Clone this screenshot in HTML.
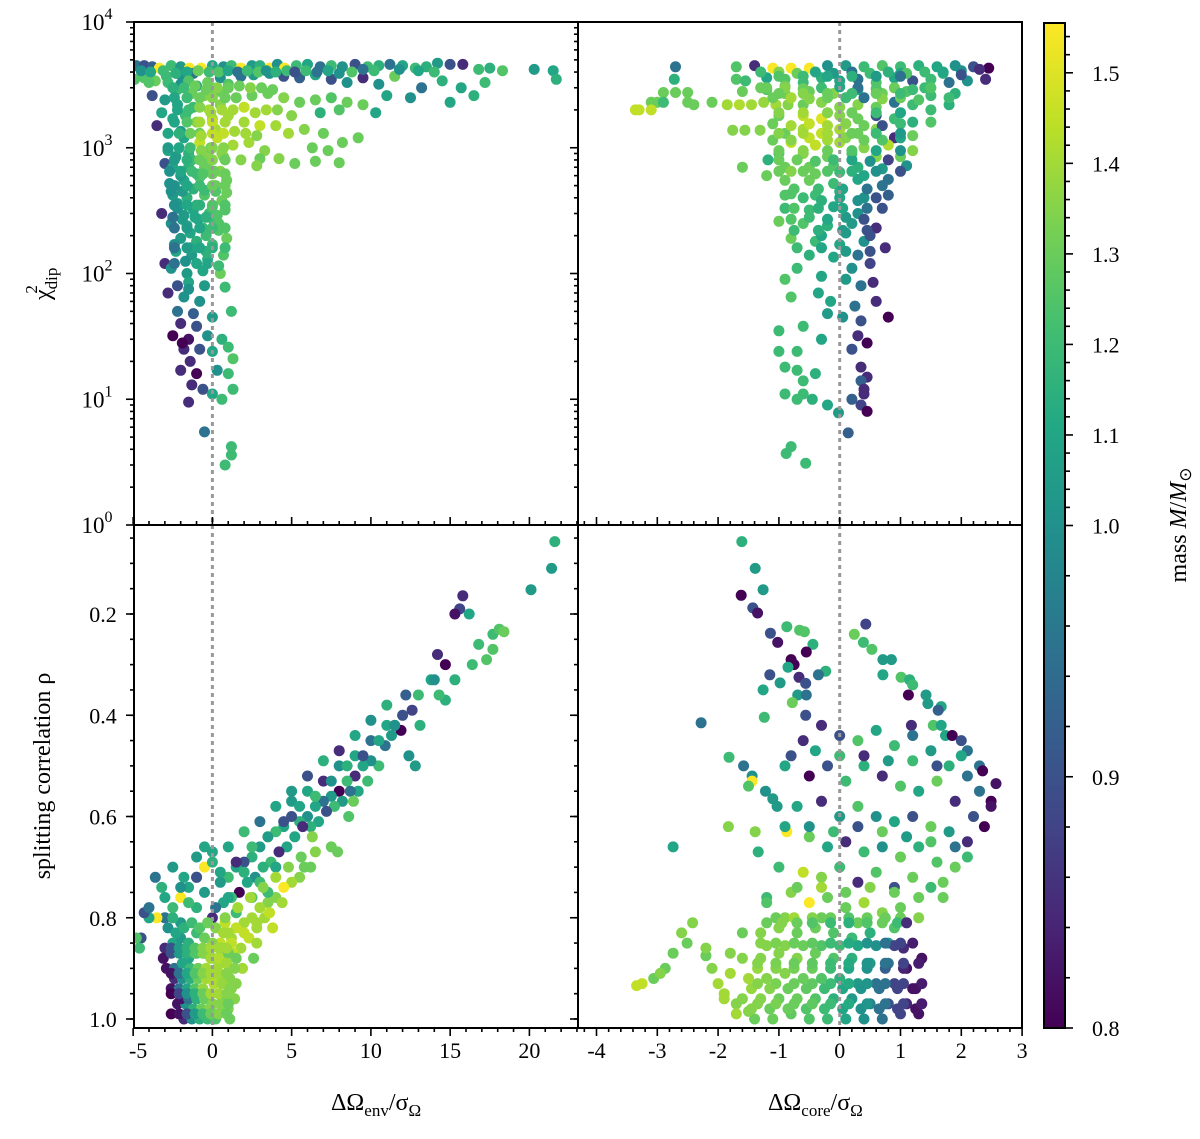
<!DOCTYPE html>
<html><head><meta charset="utf-8"><style>
html,body{margin:0;padding:0;background:#fff}
svg{display:block;font-family:"Liberation Serif",serif}
</style></head><body>
<svg id="fig" width="1200" height="1139" viewBox="0 0 1200 1139" xmlns="http://www.w3.org/2000/svg">
<defs><linearGradient id="vir" x1="0" y1="1" x2="0" y2="0">
<stop offset="0" stop-color="#440154"/><stop offset="0.1" stop-color="#482475"/><stop offset="0.2" stop-color="#414487"/><stop offset="0.3" stop-color="#355f8d"/><stop offset="0.4" stop-color="#2a788e"/><stop offset="0.5" stop-color="#21918c"/><stop offset="0.6" stop-color="#22a884"/><stop offset="0.7" stop-color="#44bf70"/><stop offset="0.8" stop-color="#7ad151"/><stop offset="0.9" stop-color="#bddf26"/><stop offset="1" stop-color="#fde725"/>
</linearGradient></defs>
<g id="layer"></g>
</svg>
<script>
// ---- top-left: env shift vs chi2 ----
const tlEnv=[-4.8,-4.3,-3.8,-3.35,-2.6,-2,-1.45,-0.7,0,0.7, 1.2,1.8,2.5,3.0,3.6,4.1,4.55,5.3,6.0,6.8, 7.5,8.2,9,9.8,10.5,11.2,12,12.8,13.5,14.2, 15,15.8,16.8,17.5,18.3,20.3,21.5,21.7,-4.9,-4.3, -3.6,-2.9,-2,-1.2,0.5,1.8,2.6,3.6,4.5,5.5, 6.5,7.5,8.5,9.5,10.5,11.5,13.2,14.5,15.7,17.2, 11,12.5,15,16.5,-3.8,-3,-2.2,-1.3,-0.5,0.5, 1.5,2.5,3.5,4.5,5.5,6.5,7.5,8.5,9.5,10.3, 6.8,8,-3.2,-2.5,-1.7,-1,0,1,2,3, 4,4.8,5.8,7,8.2,9.2,6.3,-0.8,0.3,1.3, 2.3,3.3,-3.5,-2,-2.8,-1.5,-0.3,0.7,1.8,3, 4.2,5.2,6.5,8,7.3,2.8,-3,-0.1,-2.5,-1.5, -0.5,0.5,-2.7,-1.8,-0.8,0.2,0.9,-2.5,-1.6,-0.5, 0.6,-2.2,-1.2,-0.2,0.8,-3.2,-2.6,-1.6,-0.6,0.4, -2,-1,0,0.9,-2.3,-1.3,-0.3,0.7,-3,-2.6, -1.6,-0.6,0.5,-1.5,-0.5,0.8,-2.8,-1.8,-0.8,-2.2, -1.2,0,1.2,-2,-1,-2.5,-1.5,-0.3,0.6,-1.8, -0.8,0,1,-1.4,1.3,-2,-1,0.3,1,-1.3, -0.6,0,1.3,-1.5,0.6,-0.5,1.2,1.2,0.8,-1.9, -2,-1,0,1,-2.2,-1.2,-0.2,0.5,-1.8,-0.8, 0.2,-2.3,-1.3,-0.3,0.6,-2,-1,0,-2.2,-1, 0,-1.9,-0.9,0.1,-1.4,-0.4,0.4,-2.4,-1.4,-0.4];
const tlChi=[4500,4500,4400,4300,4500,4400,4300,4300,4500,4400, 4500,4300,4500,4500,4300,4600,4300,4500,4600,4400, 4500,4400,4600,4400,4500,4600,4500,4300,4400,4700, 4600,4600,4200,4300,4100,4200,4100,3500,3500,3600, 3400,3700,3800,3900,3600,3700,3800,3900,3700,3600, 3800,3500,3300,3600,3200,3700,3000,3400,3000,3300, 2600,2500,2300,2600,2600,2400,2900,2700,2600,2800, 2500,2600,2700,2500,2300,2400,2500,2300,2200,1900, 1900,2000,1900,1700,1800,1600,1700,1800,1600,1500, 1500,1300,1400,1300,1100,1200,1000,1100,1200,1050, 1100,950,1500,1350,950,900,900,850,800,820, 820,750,780,760,950,720,750,1000,700,700, 700,650,520,550,580,500,550,420,400,420, 380,330,320,300,320,300,250,240,230,220, 190,180,170,190,150,140,130,140,120,110, 100,105,100,85,80,78,70,65,60,50, 48,45,50,40,38,32,30,32,30,25, 25,24,26,20,21,17,16,17,16,13, 12,11,12,9.5,10,5.5,4.2,3.6,3,28, 3200,3100,3000,3200,2200,2100,2000,2200,1200,1300, 1400,850,800,750,900,600,620,620,360,350, 340,270,270,260,210,200,250,170,160,150];
const tlMass=[0.95,0.9,0.92,1.55,1.2,1.05,1.55,1.55,1.1,1.0, 1.2,1.55,1.05,1.15,1.55,1.0,1.55,1.2,1.1,0.95, 1.2,1.0,0.9,1.2,1.15,0.95,1.1,1.2,1.15,1.05, 0.9,0.85,1.2,1.15,1.25,1.05,1.1,1.15,1.25,1.25, 1.3,1.2,1.0,0.95,1.0,0.95,1.05,1.0,0.9,0.92, 1.1,0.9,1.0,0.85,1.0,1.3,0.95,1.15,1.1,1.2, 1.1,1.0,1.1,1.15,0.9,1.05,1.2,1.3,1.35,1.3, 1.3,1.3,1.3,1.35,1.3,1.3,1.25,1.3,1.3,1.1, 1.15,1.25,1.1,1.1,1.2,1.35,1.4,1.4,1.4,1.45, 1.4,1.4,1.35,1.3,1.3,1.3,1.3,1.45,1.45,1.4, 1.4,1.35,0.85,1.05,1.1,1.15,1.35,1.3,1.35,1.3, 1.35,1.3,1.3,1.3,1.3,1.35,0.9,1.3,1.1,1.15, 1.3,1.35,1.0,1.1,1.25,1.3,1.3,1.05,1.15,1.25, 1.3,1.0,1.1,1.2,1.25,0.85,1.0,1.1,1.2,1.25, 1.05,1.15,1.2,1.3,1.1,1.05,1.15,1.25,0.85,1.0, 1.05,1.1,1.3,1.1,1.05,1.2,0.85,1.0,1.0,0.95, 0.92,1.05,1.2,0.85,0.9,0.8,0.82,1.0,1.15,0.85, 0.9,1.1,1.2,0.85,1.25,0.85,0.8,1.0,1.2,0.85, 0.9,1.1,1.2,0.85,1.2,0.95,1.2,1.2,1.2,0.8, 1.0,1.1,1.3,1.25,1.1,1.2,1.4,1.35,1.1,1.3, 1.4,1.05,1.2,1.3,1.35,1.05,1.2,1.3,1.05,1.15, 1.25,1.05,1.1,1.2,1.1,1.2,1.25,1.0,1.1,1.15];
const tlEnvB=[-4.5,-3.9,-3.1,-2.3,-1.6,-0.9,-0.2,0.4,1.0,1.6, 2.2,2.9,3.4,4.0,4.7,5.2,5.9,6.6,7.3,8.0, 8.8,9.5,10.2,11.8,13,14,-4,-2.8,-1.5,-0.3, -2.5,-1.8,-1.1,-0.4,0.3,1.0,1.7,2.4,3.1,3.8, -2.2,-1.5,-0.8,-0.1,0.6,1.3,2.0,2.7,3.4,4.1, -2.8,-2.1,-1.4,-0.7,0,0.7,1.4,2.1,2.8,5.0, -2.8,-2.1,-1.4,-0.7,0,0.7, -2.7,-2,-1.3,-0.6,0.1,0.8, -2.6,-1.9,-1.2,-0.5,0.2,0.9, -2.5,-1.8,-1.1,-0.4,0.3, -2.4,-1.7,-1.0,-0.3,0.4, -2.2,-1.5];
const tlChiB=[4100,4000,4100,3900,4000,4100,4000,4000,4100,4000, 4100,4000,4100,4000,4100,4000,4100,4000,4100,3900, 4000,4200,4100,4200,4100,4000,3300,3300,3400,3300, 3000,3000,3100,2900,3000,3000,3100,3000,3000,2900, 2000,2000,2100,1900,2000,2000,2100,1900,2000,2000, 1300,1300,1300,1250,1300,1300,1350,1300,1250,1800, 1000,1000,1000,950,1000,1000, 650,650,650,620,650,620, 450,450,470,460,450,440, 280,290,280,280,290, 120,125,120,120,115, 80,75];
const tlMassB=[1.0,1.1,1.2,1.15,1.1,1.3,1.2,1.25,1.1,0.95, 1.2,1.25,1.0,1.15,1.2,0.9,1.2,0.95,1.1,1.0, 1.25,0.95,1.2,1.0,1.1,1.2,1.25,1.2,1.25,1.3, 1.15,1.2,1.3,1.3,1.35,1.3,1.3,1.35,1.3,1.3, 1.1,1.2,1.35,1.4,1.4,1.4,1.45,1.4,1.4,1.35, 1.1,1.15,1.3,1.4,1.45,1.45,1.4,1.4,1.35,1.35, 1.05,1.1,1.2,1.35,1.35,1.35, 1.0,1.1,1.2,1.25,1.3,1.3, 1.0,1.05,1.15,1.2,1.25,1.3, 0.95,1.05,1.1,1.15,1.25, 0.95,1.0,1.1,1.1,1.2, 0.9,1.0];
const tlEnvC=[-2.4,-1.6,-0.8,0,0.8, -2.4,-1.6,-0.8,0,0.8, -2.4,-1.6,-0.8,0,0.8, -2.4,-1.6,-0.8,0,0.8, -2.4,-1.6,-0.8,0,0.8, -2.4,-1.6,-0.8,0,0.8, -2.4,-1.6,-0.8,0,0.8];
const tlChiC=[2500,2500,2500,2500,2500, 1600,1600,1600,1600,1600, 800,800,800,800,800, 500,500,500,500,500, 350,350,350,350,350, 230,230,230,230,230, 160,160,160,160,160];
const tlMassC=[1.1,1.2,1.3,1.35,1.3, 1.1,1.25,1.4,1.45,1.4, 1.05,1.15,1.3,1.35,1.3, 1.0,1.1,1.2,1.3,1.3, 1.0,1.1,1.15,1.25,1.25, 0.95,1.05,1.1,1.2,1.25, 0.95,1.05,1.1,1.15,1.2];
// ---- top-right: core shift vs chi2 ----
const trCore=[-2.7,-1.7,-1.4,-1.1,-0.8,-0.5,-0.2,0.1,0.4,0.7, 1.0,1.3,1.6,1.9,2.2,2.45,-1.7,-2.72,-1.55,-1.2, -0.9,-0.6,-0.3,0,0.3,0.6,0.9,1.2,1.5,1.8, 2.1,2.4,-2.9,-2.7,-2.5,-1.6,-1.2,-0.9,-0.5,-0.1, 0.3,0.7,1.1,1.5,1.9,-3.1,-3.0,-2.9,-2.5,-2.4, -2.1,-1.85,-1.65,-1.45,-1.25,-1.05,-0.85,-0.6,-0.3,0, 0.3,0.6,0.9,1.2,1.5,1.8,-3.36,-3.3,-3.1,-1.0, -0.6,-0.3,0,0.3,0.6,0.9,1.2,1.5,-1.76,-1.56, -1.31,-0.9,-0.6,-0.3,0,0.3,0.6,0.9,1.2,-0.8, -0.4,0,0.4,0.8,1.2,-1.0,-0.6,-0.2,0.2,0.6, 1.0,-1.6,-1.18,-0.9,-0.5,-0.1,0.3,0.7,1.1,-0.9, -0.5,-0.1,0.3,0.7,-0.8,-0.4,0,0.4,0.8,-0.9, -0.5,-0.1,0.3,0.7,-1.0,-0.6,-0.2,0.2,0.6,-0.8, -0.4,0,0.4,0.75,-0.5,-0.1,0.3,-0.7,0.2,0.5, -0.9,-0.3,0.1,0.35,0.55,-0.8,-0.35,-0.15,0.25,0.6, -0.2,0.05,0.35,0.8,-1.0,-0.6,-0.3,0.3,0.45,0.2, -1.0,-0.7,-0.9,-0.7,-0.4,0.35,0.45,0.35,0.4,-0.6, -0.9,-0.6,-0.7,-0.45,-0.2,0.2,0.4,0.35,0.45,-0.02, 0.14,-0.8,-0.88,-0.56,-0.3,0.1,0.5,-1.2,-0.8,-0.4, 0,0.4,0.8,-1.3,-0.9,1.4,1.7,2.0,2.3,1.0];
const trChi=[4400,4400,4500,4300,4300,4300,4500,4500,4400,4500, 4400,4500,4400,4500,4400,4300,3500,3500,3400,3600, 3500,3300,3600,3400,3500,3300,3600,3400,3500,3300, 3400,3500,2750,2750,2750,2800,2900,2700,2800,2700, 2900,2700,2800,2600,2700,2300,2300,2300,2300,2200, 2300,2200,2200,2200,2300,2200,2200,2200,2300,2100, 2200,2100,2300,2200,2000,2200,2000,2000,2000,1800, 1800,1700,1800,1700,1800,1700,1600,1600,1380,1380, 1380,1300,1400,1300,1400,1300,1400,1200,1250,1100, 1050,1100,1000,1050,950,900,900,850,900,850, 850,700,800,700,700,720,700,680,720,550, 550,520,560,500,430,420,450,400,420,330, 320,340,300,330,260,250,240,250,230,190, 180,170,180,160,140,135,140,110,110,120, 90,95,90,80,85,65,70,60,55,60, 48,45,42,45,35,38,30,32,28,25, 24,24,18,17,16,18,15,14,12,14, 11,11,10,10,9,10,11,9,8,7.8, 5.4,4.2,3.7,3.1,200,210,200,600,650,620, 640,600,560,3000,3100,3000,3900,4100,4200,3900];
const trMass=[0.95,1.25,0.85,1.55,1.55,1.55,1.0,1.05,1.2,1.25, 1.2,1.15,1.1,1.0,0.9,0.8,1.25,1.15,1.2,1.1, 1.25,1.2,1.15,1.1,0.95,1.25,1.1,0.9,1.2,0.95, 1.0,0.85,1.3,1.3,1.3,1.3,1.25,1.3,1.3,1.35, 1.1,1.3,1.25,1.2,1.15,1.3,1.3,1.2,1.3,1.3, 1.3,1.4,1.42,1.4,1.38,1.4,1.35,1.3,1.35,1.35, 1.35,1.3,0.95,1.2,1.2,1.15,1.45,1.45,1.45,1.3, 1.45,1.5,1.35,1.3,0.9,1.2,1.15,1.25,1.35,1.35, 1.35,1.3,1.4,1.45,1.4,1.3,1.35,0.85,1.3,1.45, 1.45,1.4,1.35,1.42,1.35,1.25,1.35,1.3,1.25,1.35, 1.3,1.3,1.15,1.3,1.3,1.25,1.15,1.05,1.0,1.3, 1.3,1.2,1.1,0.95,1.25,1.2,1.15,1.0,0.92,1.2, 1.2,1.1,1.0,0.9,1.3,1.25,1.15,1.05,0.85,1.3, 1.2,1.1,1.0,0.85,1.15,1.1,0.95,1.2,1.0,0.88, 1.25,1.1,1.05,0.95,0.85,1.25,1.1,1.1,0.95,0.85, 1.05,1.0,0.9,0.8,1.2,1.2,1.1,0.85,0.8,0.9, 1.2,1.2,1.2,1.2,1.15,0.85,0.85,0.92,0.85,1.2, 1.2,1.2,1.2,1.15,1.1,0.92,0.85,0.88,0.8,1.05, 0.92,1.2,1.2,1.2,1.1,1.05,0.9,1.3,1.35,1.3, 1.2,1.1,0.95,1.3,1.3,1.2,1.15,1.0,0.85,1.1];
const trCoreB=[-1.3,-1.0,-0.7,-0.4,-0.1,0.2,0.5,0.8,1.1,1.4, 1.7,2.0,-1.2,-0.9,-0.6,-0.3,0,0.3,0.6,0.9, 1.2,1.5,1.8,-1.1,-0.8,-0.5,-0.2,0.1,0.4,0.7, 1.0,1.3,-1.1,-0.8,-0.5,-0.2,0.1,0.4,0.7,1.0, -1.1,-0.8,-0.5,-0.2,0.1,0.4,0.7,1.0, -1.0,-0.7,-0.4,-0.1,0.2,0.5,0.8, -0.9,-0.6,-0.3,0,0.3, 0.6,-0.8,-0.5,-0.2,0.1,0.4,-0.7,-0.3,0.1,0.5];
const trChiB=[4000,4000,3900,4000,3900,4000,3900,4000,3900,4000, 4000,3800,3000,3000,2950,3000,3050,3000,2950,3000, 2900,3000,2500,2500,2500,2450,2500,2500,2500,2450, 2500,2400,1550,1500,1550,1500,1550,1500,1500,1550, 1150,1150,1200,1150,1200,1150,1150,1200, 800,800,780,800,800,780,800, 420,400,380,400,380, 400,270,280,270,280,270,160,160,150,150];
const trMassB=[1.2,1.35,1.3,1.1,1.05,0.95,1.2,1.15,1.25,1.2, 1.1,0.9,1.3,1.35,1.3,1.2,1.1,0.95,1.25,1.3, 1.2,1.25,1.2,1.3,1.4,1.35,1.3,1.2,0.95,1.35, 1.3,1.25,1.3,1.4,1.45,1.4,1.35,1.3,0.9,1.2, 1.3,1.35,1.45,1.4,1.35,1.3,1.25,1.1, 1.3,1.3,1.25,1.2,1.1,1.0,0.88, 1.25,1.2,1.15,1.1,1.0, 0.9,1.25,1.2,1.1,1.05,0.9,1.2,1.1,1.05,0.9];
const trCoreC=[-1,-0.6,-0.2,0.2,0.6,1.0, -1,-0.6,-0.2,0.2,0.6,1.0, -1,-0.6,-0.2,0.2,0.6,1.0, -1,-0.6,-0.2,0.2,0.6,1.0, -1,-0.6,-0.2,0.2,0.6,1.0, -1,-0.6,-0.2,0.2,0.6,1.0, -0.75,-0.35,0.05,0.45, -0.75,-0.35,0.05,0.45, -0.75,-0.35,0.05,0.45];
const trChiC=[3700,3700,3700,3700,3700,3700, 2700,2700,2700,2700,2700,2700, 1900,1900,1900,1900,1900,1900, 1300,1300,1300,1300,1300,1300, 950,950,950,950,950,950, 650,650,650,650,650,650, 470,470,470,470, 330,330,330,330, 220,220,220,220];
const trMassC=[1.25,1.2,1.1,1.15,1.05,0.95, 1.3,1.35,1.3,1.2,1.3,1.2, 1.35,1.4,1.35,1.3,1.2,1.1, 1.35,1.4,1.4,1.3,1.2,1.05, 1.3,1.35,1.3,1.25,1.1,1.0, 1.3,1.3,1.25,1.15,1.0,0.9, 1.25,1.2,1.1,0.95, 1.25,1.15,1.1,0.95, 1.2,1.15,1.05,0.9];
// ---- bottom-left: env shift vs rho ----
const blEnv=[21.6,21.4,20.1,15.8,15.6,15.3,16.2,17.7,18.1,18.4, 17.7,16.8,17.3,14.2,14.7,13.8,12.2,12.6,15.3,16.4, 14.7,14.3,13.1,11.5,11.3,10.9,11.9,12.4,12.8,10.5, 10.0,9.5,9.0,8.5,8.0,7.5,7.0,6.5,6.0,5.5, 9.8,9.2,8.7,8.2,7.7,7.2,6.7,6.2,5.7,5.2, 5.0,4.5,4.0,3.5,3.0,2.5,2.0,1.5,1.0,0.5, 4.7,4.2,3.7,3.2,2.7,2.2,1.7,1.2,0.7,0.2, 0,-0.5,-1,-1.5,-2,-2.5,-3,-3.5,-4,-4.5, 6.3,6.5,6.2,7.5,7.9,5.8,5.5,5.0,4.5,4.0, 3.5,3.0,2.5,2.0,1.5,1.0,0.5,8.9,8.6,3.8, 3.3,2.8,2.3,1.8,1.3,0.8,0.3,2.6,1.9,1.5, -3,-2.5,-2,-1.5,-1,-0.5,0,0.5,1,1.5, -2.9,-2.4,-1.9,-1.4,-0.9,-0.4,0.1,0.6,1.1,-2.6, -2.1,-1.6,-1.1,-0.6,-0.1,0.4,0.9,-2.2,-1.7,-1.2, -0.7,-0.2,0.3,0.8,1.1,-1.8,-1.3,-0.8,-0.3,0.2, -4.8,-4.6,-4.3,-4.0,-3.6,-3.2,-2.5,-1.8,-1.0,-0.5, 1,2,3,4,0,-1,-2,2.5,3.5,1.5, 6,7,8,9,10,11,12,13,14,5, 1.2,1.4,1.0,-0.5,0,0.5,-1.5,-1,2.8,0.8];
const blRho=[0.057,0.11,0.152,0.164,0.19,0.2,0.2,0.24,0.23,0.235, 0.27,0.26,0.29,0.28,0.3,0.33,0.36,0.39,0.33,0.3, 0.37,0.36,0.42,0.42,0.44,0.46,0.43,0.48,0.5,0.5, 0.49,0.5,0.52,0.53,0.55,0.56,0.57,0.58,0.6,0.61, 0.53,0.55,0.55,0.57,0.58,0.59,0.61,0.62,0.62,0.64, 0.6,0.62,0.63,0.64,0.66,0.68,0.69,0.7,0.72,0.73, 0.66,0.67,0.69,0.7,0.72,0.73,0.75,0.76,0.77,0.78, 0.67,0.7,0.72,0.74,0.76,0.78,0.8,0.8,0.8,0.84, 0.64,0.67,0.7,0.66,0.67,0.7,0.72,0.73,0.74,0.76, 0.77,0.78,0.8,0.81,0.82,0.83,0.85,0.57,0.6,0.82, 0.8,0.82,0.84,0.86,0.87,0.88,0.9,0.88,0.9,0.93, 0.86,0.85,0.84,0.85,0.83,0.84,0.85,0.86,0.87,0.88, 0.9,0.9,0.89,0.9,0.9,0.9,0.91,0.92,0.92,0.94, 0.94,0.94,0.94,0.94,0.95,0.95,0.96,0.97,0.97,0.98, 0.98,0.98,0.99,0.98,1.0,1.0,1.0,1.0,1.0,1.0, 0.84,0.86,0.79,0.78,0.72,0.74,0.7,0.72,0.68,0.66, 0.76,0.71,0.73,0.7,0.8,0.78,0.81,0.76,0.75,0.79, 0.55,0.53,0.5,0.48,0.45,0.42,0.4,0.36,0.33,0.57, 0.94,0.96,0.98,0.87,0.88,0.89,0.88,0.87,0.85,0.81];
const blMass=[1.15,1.05,1.05,0.85,0.88,0.82,1.1,1.2,1.25,1.3, 1.25,1.2,1.25,0.85,0.8,1.1,0.92,0.88,1.15,1.2, 1.15,1.2,1.15,1.05,1.05,0.95,0.8,1.0,1.05,1.2, 1.0,1.1,0.85,1.2,0.8,1.05,0.95,1.1,1.0,1.15, 1.2,1.1,0.95,1.05,1.2,0.9,1.1,1.15,0.85,1.1, 0.9,1.1,1.2,1.55,1.05,1.15,0.9,1.1,1.2,1.05, 1.1,0.85,1.2,1.15,1.0,1.1,0.8,1.2,1.1,0.95, 1.1,1.55,1.15,1.1,1.55,1.2,0.95,1.55,1.1,0.9, 1.35,1.35,1.3,1.3,1.3,1.3,1.35,1.4,1.55,1.35, 1.35,1.4,1.4,1.4,1.45,1.4,1.45,1.3,1.25,1.45, 1.4,1.4,1.45,1.4,1.45,1.4,1.4,1.3,1.4,1.35, 0.85,1.1,1.05,1.15,1.2,1.3,1.35,1.35,1.3,1.3, 0.82,0.95,1.1,1.2,1.3,1.4,1.4,1.38,1.35,0.82, 0.95,1.1,1.25,1.38,1.4,1.35,1.3,0.82,1.0,1.15, 1.3,1.35,1.3,1.3,1.3,0.85,1.0,1.15,1.2,1.25, 1.25,1.2,0.9,0.95,0.95,1.15,1.05,1.1,1.05,1.1, 1.1,1.15,1.2,1.1,0.85,1.15,1.05,1.25,1.2,1.2, 1.1,0.85,1.0,1.1,0.95,1.1,0.9,1.2,1.0,1.05, 1.35,1.35,1.35,1.2,1.3,1.4,1.1,1.2,1.4,1.45];
const blEnvB=[-3,-2,-1,0,1,2,3,4,5,6,7,8,9,10,11, -2.5,-1.5,-0.5,0.5,1.5,2.5,3.5,4.5,5.5,6.5,7.5,8.5,9.5,10.5,11.5, -2.8,-2.3,-1.8,-1.3,-0.8,-0.3,0.2,0.7,1.2, -3.1,-2.6,-2.1,-1.6,-1.1,-0.6,-0.1,0.4,0.9,1.4, -2.4,-1.9,-1.4,-0.9,-0.4,0.1,0.6,1.1, -2.0,-1.5,-1.0,-0.5,0,0.5,1.0, 0.8,1.6,2.4,3.2,4.0,4.8,5.6,1.2,2.0,2.8,3.6,4.4];
const blRhoB=[0.76,0.74,0.72,0.69,0.66,0.63,0.61,0.58,0.55,0.52,0.49,0.47,0.44,0.41,0.38, 0.8,0.77,0.75,0.71,0.69,0.66,0.64,0.61,0.58,0.56,0.53,0.5,0.48,0.45,0.42, 0.82,0.83,0.82,0.81,0.82,0.81,0.82,0.83,0.84, 0.88,0.87,0.87,0.87,0.87,0.87,0.88,0.88,0.89,0.9, 0.92,0.92,0.92,0.92,0.92,0.93,0.93,0.94, 0.96,0.96,0.96,0.96,0.97,0.97,0.97, 0.8,0.78,0.76,0.74,0.72,0.7,0.68,0.85,0.83,0.81,0.79,0.77];
const blMassB=[1.1,1.0,0.9,1.15,1.1,1.2,0.95,1.1,1.05,0.9,1.15,0.85,1.1,1.0,1.15, 1.15,1.2,1.05,1.1,0.85,1.2,1.05,0.9,1.1,1.2,1.0,1.15,0.9,1.1,1.0, 1.0,1.1,1.15,1.2,1.25,1.3,1.35,1.4,1.4, 0.82,0.9,1.05,1.15,1.25,1.35,1.4,1.42,1.4,1.35, 0.85,1.0,1.15,1.3,1.4,1.42,1.38,1.35, 0.82,0.95,1.15,1.3,1.35,1.35,1.3, 1.35,1.4,1.4,1.35,1.4,1.35,1.3,1.45,1.45,1.4,1.45,1.4];
const blEnvC=[-2.6,-2.1,-1.6,-1.1,-0.6,-0.1,0.4,0.9, -2.6,-2.1,-1.6,-1.1,-0.6,-0.1,0.4,0.9, -2.6,-2.1,-1.6,-1.1,-0.6,-0.1,0.4,0.9, -2.6,-2.1,-1.6,-1.1,-0.6,-0.1,0.4,0.9];
const blRhoC=[0.99,0.99,0.99,0.99,0.99,0.99,0.99,0.99, 0.95,0.95,0.95,0.95,0.95,0.95,0.95,0.95, 0.91,0.91,0.91,0.91,0.91,0.91,0.91,0.91, 0.86,0.86,0.86,0.86,0.86,0.86,0.86,0.86];
const blMassC=[0.8,0.82,0.9,1.05,1.2,1.3,1.35,1.3, 0.8,0.88,1.0,1.15,1.3,1.4,1.4,1.35, 0.82,0.95,1.1,1.25,1.35,1.4,1.4,1.35, 0.9,1.05,1.15,1.25,1.35,1.4,1.4,1.4];
// ---- bottom-right: core shift vs rho ----
const brCore=[-1.61,-1.39,-1.26,-1.62,-1.43,-1.35,-1.14,-1.02,-0.87,-0.66, -0.58,-0.44,-0.55,-0.8,-0.75,-0.85,-0.23,-1.15,-0.98,-0.67, -0.56,-0.35,-1.26,-0.69,-0.55,-0.78,-1.24,-0.56,0.43,0.24, 0.39,0.53,0.71,0.85,0.71,1.01,1.15,1.2,1.13,1.42, 1.45,1.67,1.62,1.18,1.54,1.67,1.74,1.85,2.0,2.1, 2.3,2.35,2.57,2.49,2.49,2.38,-2.28,-1.82,-1.58,-1.44, -1.44,-1.5,-1.22,-1.1,-1.03,-1.83,-1.39,-2.74,-0.87,-1.34, -2.42,-2.6,-2.51,-2.74,-2.87,-3.06,-3.34,-2.2,-3.25,-2.95, -0.3,0,0.3,0.6,0.9,1.2,1.5,1.8,2.1,-0.6, -0.9,-0.5,-0.2,0.1,0.4,0.7,1.0,1.3,1.6,1.9, 2.2,-0.7,-0.3,0,0.3,0.6,0.9,1.2,1.5,1.8, 2.1,-0.5,-0.2,0.1,0.4,0.7,1.0,1.3,1.6,1.9, -1.0,-0.6,-0.3,0,0.3,0.6,0.9,1.2,1.5,1.7, -1.2,-0.8,-0.5,-0.2,0.1,0.4,0.7,1.0,1.3,-0.9, -1.3,-1.0,-0.7,-0.4,-0.1,0.2,0.5,0.8,1.05,-1.6, -1.3,-1.0,-0.7,-0.4,-0.1,0.2,0.5,0.8,1.1,-1.8, -1.5,-1.2,-0.9,-0.6,-0.3,0,0.3,0.6,0.9,1.2, -1.6,-1.3,-1.0,-0.7,-0.4,-0.1,0.2,0.5,0.8,1.1, -1.4,-1.1,-0.8,-0.5,-0.2,0.1,0.4,0.7,1.0,1.3, -2.0,-1.9,-2.2,-1.7,-1.6,-1.2,-0.3,0.3,0.9,1.35];
const brRho=[0.057,0.11,0.152,0.163,0.188,0.198,0.238,0.256,0.225,0.232, 0.235,0.26,0.275,0.29,0.3,0.305,0.313,0.32,0.336,0.325, 0.337,0.32,0.35,0.36,0.36,0.375,0.404,0.4,0.22,0.24, 0.256,0.27,0.29,0.29,0.32,0.325,0.33,0.34,0.36,0.36, 0.377,0.383,0.39,0.42,0.42,0.42,0.44,0.44,0.45,0.47, 0.5,0.51,0.535,0.57,0.58,0.62,0.415,0.483,0.5,0.52, 0.53,0.54,0.55,0.565,0.58,0.62,0.63,0.66,0.63,0.67, 0.81,0.83,0.85,0.87,0.9,0.92,0.934,0.875,0.93,0.91, 0.42,0.44,0.45,0.43,0.46,0.44,0.47,0.5,0.52,0.45, 0.5,0.52,0.5,0.53,0.5,0.52,0.54,0.55,0.53,0.57, 0.6,0.58,0.57,0.6,0.58,0.6,0.61,0.6,0.62,0.63, 0.65,0.64,0.66,0.65,0.67,0.66,0.68,0.66,0.69,0.7, 0.7,0.71,0.72,0.7,0.73,0.71,0.74,0.72,0.74,0.76, 0.76,0.75,0.77,0.76,0.78,0.77,0.79,0.78,0.8,0.8, 0.83,0.82,0.83,0.82,0.83,0.84,0.83,0.85,0.86,0.88, 0.88,0.87,0.88,0.87,0.88,0.88,0.89,0.89,0.9,0.91, 0.92,0.92,0.91,0.92,0.92,0.92,0.93,0.93,0.93,0.94, 0.96,0.96,0.96,0.96,0.96,0.96,0.96,0.97,0.97,0.97, 1.0,1.0,0.99,1.0,1.0,1.0,1.0,1.0,0.99,0.99, 0.93,0.96,0.86,0.97,0.83,0.77,0.8,0.81,0.82,0.88];
const brMass=[1.15,1.05,1.05,0.8,0.9,0.82,0.9,0.82,1.2,1.25, 1.25,1.15,0.8,0.8,0.8,1.1,1.15,0.9,1.05,0.85, 0.9,0.95,1.1,1.05,0.95,1.3,1.2,0.9,0.88,1.3, 1.2,1.25,1.05,1.05,1.1,1.25,1.15,1.2,0.8,1.05, 1.05,1.1,0.92,0.85,1.25,1.1,1.1,0.8,0.9,0.95, 0.95,0.8,0.82,0.8,0.82,0.8,0.95,1.2,0.95,1.0, 1.55,1.25,1.0,1.05,1.05,1.35,1.35,1.1,1.55,1.15, 1.35,1.35,1.3,1.3,1.3,1.3,1.45,1.3,1.45,1.35, 0.85,0.9,1.25,1.1,1.2,0.95,1.05,1.15,0.95,0.85, 1.1,0.8,0.9,1.2,1.15,0.85,1.25,1.1,1.3,0.85, 0.9,1.1,0.85,1.05,1.25,1.0,1.1,0.9,1.3,1.05, 0.85,1.3,1.1,0.85,1.2,1.0,1.3,1.15,1.25,1.3, 1.2,1.45,1.35,1.2,0.85,1.25,0.9,1.3,1.2,1.3, 1.2,1.35,1.55,1.3,1.3,1.4,1.35,1.3,1.35,1.35, 1.35,1.35,1.3,1.3,1.25,1.2,1.15,1.05,0.85,1.35, 1.35,1.35,1.35,1.3,1.25,1.15,1.05,0.95,0.82,1.4, 1.4,1.35,1.35,1.3,1.25,1.15,1.05,0.95,0.88,0.82, 1.35,1.35,1.3,1.3,1.25,1.15,1.05,0.98,0.9,0.84, 1.3,1.3,1.28,1.25,1.2,1.1,1.0,0.95,0.88,0.82, 1.4,1.4,1.35,1.35,1.3,1.25,1.3,1.3,1.25,0.82];
const brCoreB=[-1.45,-1.15,-0.85,-0.55,-0.25,0.05,0.35,0.65,0.95,1.25, -1.45,-1.15,-0.85,-0.55,-0.25,0.05,0.35,0.65,0.95,1.25, -1.35,-1.05,-0.75,-0.45,-0.15,0.15,0.45,0.75,1.05, -1.2,-0.9,-0.6,-0.3,0,0.3,0.6,0.9, -1.05,-0.75,-0.45,-0.15,0.15,0.45,0.75,1.0, -0.8,-0.4,0,0.4,0.8,1.2,1.6,2.0,2.3, -0.9,-0.5,-0.1,0.3,0.7,1.1,1.5,1.9, -0.7,-0.3,0.1,0.5,0.9,1.3,1.7,2.1, -1.9,-1.7,-1.5,-2.1,-1.8];
const brRhoB=[0.98,0.98,0.98,0.98,0.98,0.98,0.98,0.98,0.98,0.98, 0.94,0.94,0.94,0.94,0.94,0.94,0.94,0.94,0.94,0.94, 0.9,0.9,0.9,0.9,0.9,0.9,0.9,0.9,0.9, 0.855,0.855,0.855,0.855,0.855,0.855,0.855,0.855, 0.8,0.8,0.8,0.8,0.8,0.8,0.8,0.8, 0.48,0.47,0.48,0.48,0.49,0.49,0.5,0.48,0.55, 0.62,0.62,0.63,0.62,0.63,0.64,0.65,0.66, 0.74,0.74,0.75,0.74,0.75,0.76,0.73,0.68, 0.95,0.99,0.985,0.9,0.87];
const brMassB=[1.35,1.3,1.3,1.25,1.2,1.1,1.0,0.95,0.88,0.82, 1.38,1.35,1.3,1.28,1.2,1.1,1.02,0.95,0.88,0.82, 1.38,1.35,1.32,1.3,1.2,1.1,1.0,0.92,0.84, 1.35,1.35,1.3,1.25,1.2,1.1,1.0,0.88, 1.3,1.4,1.35,1.3,1.25,1.3,1.3,1.3, 0.9,1.1,1.2,0.85,1.05,1.2,0.9,1.1,0.95, 1.1,1.0,1.2,0.9,1.3,1.05,1.25,0.95, 1.3,1.4,1.3,1.35,1.3,1.3,1.3,1.2, 1.4,1.4,1.35,1.35,1.35];
const brCoreC=[-1.35,-1.05,-0.75,-0.45,-0.15,0.15,0.45,0.75,1.05,1.35, -1.35,-1.05,-0.75,-0.45,-0.15,0.15,0.45,0.75,1.05,1.35, -1.35,-1.05,-0.75,-0.45,-0.15,0.15,0.45,0.75,1.05,1.3, -1.3,-1.05,-0.75,-0.45,-0.15,0.15,0.45,0.75,1.0,1.2, -1.2,-0.95,-0.7,-0.45,-0.15,0.15,0.45,0.7,0.95,1.1];
const brRhoC=[0.97,0.97,0.97,0.97,0.97,0.97,0.97,0.97,0.97,0.97, 0.93,0.93,0.93,0.93,0.93,0.93,0.93,0.93,0.93,0.93, 0.89,0.89,0.89,0.89,0.89,0.89,0.89,0.89,0.89,0.89, 0.85,0.85,0.85,0.85,0.85,0.85,0.85,0.85,0.85,0.85, 0.81,0.81,0.81,0.81,0.81,0.81,0.81,0.81,0.81,0.81];
const brMassC=[1.35,1.33,1.3,1.28,1.2,1.12,1.02,0.95,0.88,0.83, 1.35,1.33,1.3,1.28,1.2,1.12,1.02,0.95,0.88,0.83, 1.35,1.33,1.3,1.28,1.2,1.12,1.02,0.95,0.88,0.83, 1.35,1.33,1.3,1.28,1.2,1.12,1.02,0.95,0.88,0.83, 1.3,1.35,1.3,1.25,1.2,1.15,1.25,1.3,1.2,0.85];
// ticks
const cbTicks=[0.8,0.9,1.0,1.1,1.2,1.3,1.4,1.5];
const envTicks=[-5,0,5,10,15,20];
const coreTicks=[-4,-3,-2,-1,0,1,2,3];
const rhoTicks=[0.2,0.4,0.6,0.8,1.0];
const chiExps=[0,1,2,3,4];

const NS="http://www.w3.org/2000/svg";
const layer=document.getElementById('layer');
function mk(tag,attrs,parent){const e=document.createElementNS(NS,tag);for(const k in attrs)e.setAttribute(k,attrs[k]);(parent||layer).appendChild(e);return e;}
const VIR=["#440154","#482475","#414487","#355f8d","#2a788e","#21918c","#22a884","#44bf70","#7ad151","#bddf26","#fde725"];
function hex(c){return [parseInt(c.slice(1,3),16),parseInt(c.slice(3,5),16),parseInt(c.slice(5,7),16)];}
function norm(m){let t=m<1?0.5*(m-0.8)/0.2:0.5+0.5*(m-1)/0.555;return Math.max(0,Math.min(1,t));}
function color(m){const t=norm(m)*10;const i=Math.min(9,Math.floor(t));const f=t-i;const a=hex(VIR[i]),b=hex(VIR[i+1]);return 'rgb('+a.map((v,k)=>Math.round(v+(b[k]-v)*f)).join(',')+')';}

const L=134,M=578,R=1022,T=22,MID=525,B=1028;
const xEnv=v=>212.4+15.85*v;
const xCore=v=>839.7+60.8*v;
const yChi=v=>525-125.75*Math.log10(v);
const yRho=v=>614+506.25*(v-0.2);
const yCb=m=>1028-norm(m)*1005;

function panel(name,x0,y0,x1,y1,xs,ys,ms,fx,fy){
  const g=mk('g',{});
  
  
  const cp=mk('clipPath',{id:'cp-'+name},g);mk('rect',{x:x0,y:y0,width:x1-x0,height:y1-y0},cp);
  const pts=mk('g',{'clip-path':'url(#cp-'+name+')'},g);
  for(let i=0;i<xs.length;i++){
    const c=mk('circle',{cx:fx(xs[i]).toFixed(1),cy:fy(ys[i]).toFixed(1),r:5.5,fill:color(ms[i])},pts);
    
    
  }
  const zx=fx(0);
  const zl=mk('line',{x1:zx,y1:y0,x2:zx,y2:y1,stroke:'#999',"stroke-width":3,"stroke-dasharray":"4 4"},g);
  
  
}
panel('panel-env-chi2',L,T,M,MID,tlEnv.concat(tlEnvB,tlEnvC),tlChi.concat(tlChiB,tlChiC),tlMass.concat(tlMassB,tlMassC),xEnv,yChi);
panel('panel-core-chi2',M,T,R,MID,trCore.concat(trCoreB,trCoreC),trChi.concat(trChiB,trChiC),trMass.concat(trMassB,trMassC),xCore,yChi);
panel('panel-env-rho',L,MID,M,B,blEnv.concat(blEnvB,blEnvC),blRho.concat(blRhoB,blRhoC),blMass.concat(blMassB,blMassC),xEnv,yRho);
panel('panel-core-rho',M,MID,R,B,brCore.concat(brCoreB,brCoreC),brRho.concat(brRhoB,brRhoC),brMass.concat(brMassB,brMassC),xCore,yRho);

const fr=mk('g',{fill:'none',stroke:'#000','stroke-width':2});


mk('rect',{x:L,y:T,width:R-L,height:B-T},fr);
mk('line',{x1:M,y1:T,x2:M,y2:B},fr);
mk('line',{x1:L,y1:MID,x2:R,y2:MID},fr);

const tk=mk('g',{stroke:'#000','stroke-width':1.6});


function txt(s,x,y,anchor,size,name){const t=mk('text',{x:x,y:y,'text-anchor':anchor,'font-size':size||22,fill:'#000'});t.textContent=s;return t;}

[L,M].forEach(ax=>{
  for(let e=0;e<4;e++)for(let k=2;k<10;k++){const y=yChi(k*Math.pow(10,e));mk('line',{x1:ax-4,y1:y,x2:ax,y2:y},tk);}
  chiExps.forEach(e=>{const y=yChi(Math.pow(10,e));mk('line',{x1:ax-8,y1:y,x2:ax,y2:y},tk);});
  for(let r=0.05;r<=1.0001;r+=0.05){const y=yRho(r);mk('line',{x1:ax-4,y1:y,x2:ax,y2:y},tk);}
  rhoTicks.forEach(r=>{const y=yRho(r);mk('line',{x1:ax-8,y1:y,x2:ax,y2:y},tk);});
});
chiExps.forEach(e=>{const y=yChi(Math.pow(10,e));const t=txt('10',97,y+8,'middle',23,'y-tick-label');const s=mk('tspan',{dy:-11,'font-size':16},t);s.textContent=String(e);});
rhoTicks.forEach(r=>txt(r.toFixed(1),103,yRho(r)+8,'middle',22,'y-tick-label'));

for(let v=-5;v<=23;v++){const x=xEnv(v);const maj=v%5===0;mk('line',{x1:x,y1:B,x2:x,y2:B+(maj?8:4)},tk);mk('line',{x1:x,y1:MID,x2:x,y2:MID-(maj?8:4)},tk);}
for(let i=-21;i<=15;i++){const v=i/5;const x=xCore(v);const maj=i%5===0;mk('line',{x1:x,y1:B,x2:x,y2:B+(maj?8:4)},tk);mk('line',{x1:x,y1:MID,x2:x,y2:MID-(maj?8:4)},tk);}
envTicks.forEach(v=>txt(String(v),xEnv(v)+(v===-5?5:0),1058,'middle',22,'x-tick-label'));
coreTicks.forEach(v=>txt(String(v),xCore(v),1058,'middle',22,'x-tick-label'));

let t=txt('ΔΩ',331,1110,'start',24,'x-axis-title-env');let s=mk('tspan',{dy:6,'font-size':17},t);s.textContent='env';s=mk('tspan',{dy:-6},t);s.textContent='/σ';s=mk('tspan',{dy:6,'font-size':17},t);s.textContent='Ω';
t=txt('ΔΩ',768,1110,'start',24,'x-axis-title-core');s=mk('tspan',{dy:6,'font-size':17},t);s.textContent='core';s=mk('tspan',{dy:-6},t);s.textContent='/σ';s=mk('tspan',{dy:6,'font-size':17},t);s.textContent='Ω';
t=txt('χ',0,0,'start',24,'y-axis-title-chi2');t.setAttribute('transform','translate(50,300) rotate(-90)');
s=mk('tspan',{dy:7,'font-size':17},t);s.textContent='dip';s=mk('tspan',{dx:-26,dy:-20,'font-size':17},t);s.textContent='2';
t=txt('splitting correlation ρ',0,0,'middle',24,'y-axis-title-rho');t.setAttribute('transform','translate(50,776) rotate(-90)');

const cb=mk('g',{});


mk('rect',{x:1044,y:23,width:21,height:1005,fill:'url(#vir)',stroke:'#000','stroke-width':2},cb);
for(let i=80;i<=155;i+=2){const m=i/100;const y=yCb(m);const maj=i%10===0;mk('line',{x1:1065,y1:y,x2:1065+(maj?8:5),y2:y,stroke:'#000','stroke-width':1.6},cb);}
cbTicks.forEach(m=>txt(m.toFixed(1),1092,yCb(m)+8,'start',22,'colorbar-tick-label'));
t=txt('mass ',0,0,'middle',24,'colorbar-title');t.setAttribute('transform','translate(1186,525) rotate(-90)');
s=mk('tspan',{'font-style':'italic'},t);s.textContent='M';s=mk('tspan',{},t);s.textContent='/';s=mk('tspan',{'font-style':'italic'},t);s.textContent='M';s=mk('tspan',{dy:5,'font-size':17},t);s.textContent='⊙';
</script>
</body></html>
